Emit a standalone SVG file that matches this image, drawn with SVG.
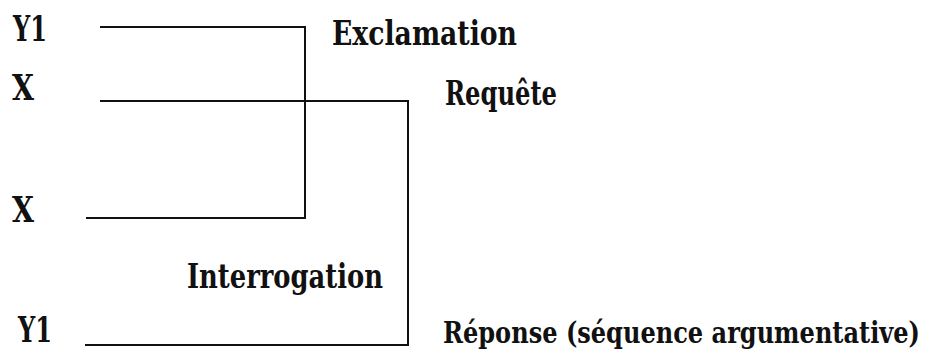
<svg xmlns="http://www.w3.org/2000/svg" width="951" height="356" viewBox="0 0 951 356">
<style>
.v{font-size:36px}
.l{font-size:33px}
.c{fill:none;stroke:#111;stroke-width:2}
</style>
<rect width="951" height="356" fill="#fff"/>
<g id="connectors">
<polyline class="c" points="100,27 305,27 305,218 86,218"/>
<polyline class="c" points="100,101 408,101 408,345 85,345"/>
</g>
<g font-family="DejaVu Serif, serif" font-weight="bold" fill="#111">
<g id="y1-top"><text class="v" x="13" y="41" textLength="34" lengthAdjust="spacingAndGlyphs">Y1</text></g>
<g id="x-top"><text class="v" x="12" y="100" textLength="22" lengthAdjust="spacingAndGlyphs">X</text></g>
<g id="x-mid"><text class="v" x="12" y="222" textLength="22" lengthAdjust="spacingAndGlyphs">X</text></g>
<g id="y1-bottom"><text class="v" x="18" y="342" textLength="34" lengthAdjust="spacingAndGlyphs">Y1</text></g>
<g id="exclamation"><text class="l" x="332" y="45" textLength="185" lengthAdjust="spacingAndGlyphs">Exclamation</text></g>
<g id="requete"><text class="l" x="445" y="105" textLength="112" lengthAdjust="spacingAndGlyphs">Requête</text></g>
<g id="interrogation"><text class="l" x="187" y="288" textLength="196" lengthAdjust="spacingAndGlyphs">Interrogation</text></g>
<g id="reponse"><text x="0" y="0" transform="translate(443,343) scale(1,1.25)" font-size="24" textLength="477" lengthAdjust="spacingAndGlyphs">Réponse (séquence argumentative)</text></g>
</g>
</svg>
